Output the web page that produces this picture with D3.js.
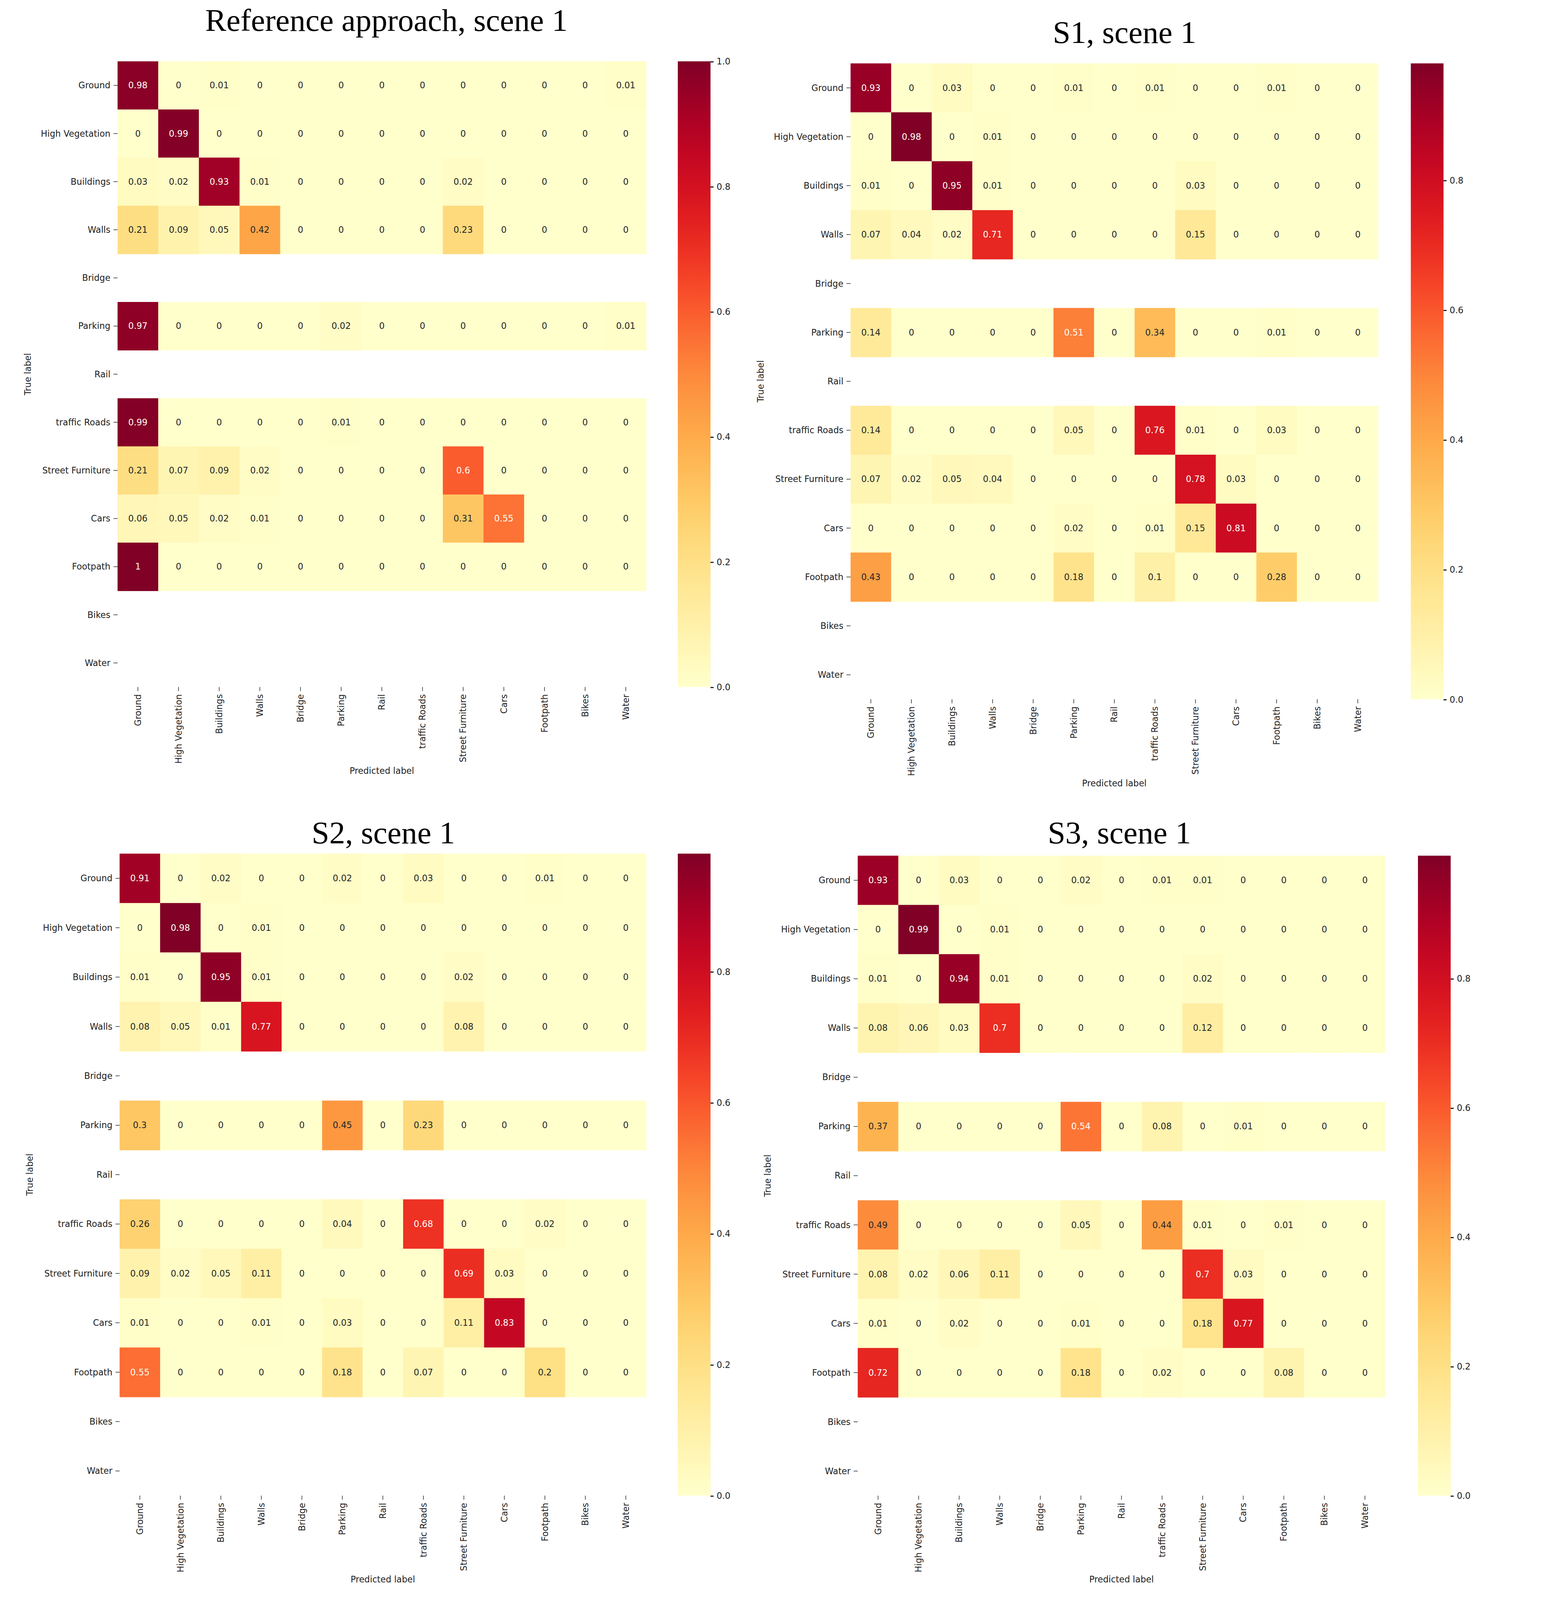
<!DOCTYPE html>
<html><head><meta charset="utf-8">
<script src="https://d3js.org/d3.v7.min.js"></script>
<style>body{margin:0;background:#fff}</style></head>
<body><script>
const labels=["Ground","High Vegetation","Buildings","Walls","Bridge","Parking","Rail","traffic Roads","Street Furniture","Cars","Footpath","Bikes","Water"];
const titles=["Reference approach, scene 1","S1, scene 1","S2, scene 1","S3, scene 1"];
const N=null;
const refData=[
[.98,0,.01,0,0,0,0,0,0,0,0,0,.01],
[0,.99,0,0,0,0,0,0,0,0,0,0,0],
[.03,.02,.93,.01,0,0,0,0,.02,0,0,0,0],
[.21,.09,.05,.42,0,0,0,0,.23,0,0,0,0],
N,
[.97,0,0,0,0,.02,0,0,0,0,0,0,.01],
N,
[.99,0,0,0,0,.01,0,0,0,0,0,0,0],
[.21,.07,.09,.02,0,0,0,0,.6,0,0,0,0],
[.06,.05,.02,.01,0,0,0,0,.31,.55,0,0,0],
[1,0,0,0,0,0,0,0,0,0,0,0,0],N,N];
const s1Data=[
[.93,0,.03,0,0,.01,0,.01,0,0,.01,0,0],
[0,.98,0,.01,0,0,0,0,0,0,0,0,0],
[.01,0,.95,.01,0,0,0,0,.03,0,0,0,0],
[.07,.04,.02,.71,0,0,0,0,.15,0,0,0,0],
N,
[.14,0,0,0,0,.51,0,.34,0,0,.01,0,0],
N,
[.14,0,0,0,0,.05,0,.76,.01,0,.03,0,0],
[.07,.02,.05,.04,0,0,0,0,.78,.03,0,0,0],
[0,0,0,0,0,.02,0,.01,.15,.81,0,0,0],
[.43,0,0,0,0,.18,0,.1,0,0,.28,0,0],N,N];
const s2Data=[
[.91,0,.02,0,0,.02,0,.03,0,0,.01,0,0],
[0,.98,0,.01,0,0,0,0,0,0,0,0,0],
[.01,0,.95,.01,0,0,0,0,.02,0,0,0,0],
[.08,.05,.01,.77,0,0,0,0,.08,0,0,0,0],
N,
[.3,0,0,0,0,.45,0,.23,0,0,0,0,0],
N,
[.26,0,0,0,0,.04,0,.68,0,0,.02,0,0],
[.09,.02,.05,.11,0,0,0,0,.69,.03,0,0,0],
[.01,0,0,.01,0,.03,0,0,.11,.83,0,0,0],
[.55,0,0,0,0,.18,0,.07,0,0,.2,0,0],N,N];
const s3Data=[
[.93,0,.03,0,0,.02,0,.01,.01,0,0,0,0],
[0,.99,0,.01,0,0,0,0,0,0,0,0,0],
[.01,0,.94,.01,0,0,0,0,.02,0,0,0,0],
[.08,.06,.03,.7,0,0,0,0,.12,0,0,0,0],
N,
[.37,0,0,0,0,.54,0,.08,0,.01,0,0,0],
N,
[.49,0,0,0,0,.05,0,.44,.01,0,.01,0,0],
[.08,.02,.06,.11,0,0,0,0,.7,.03,0,0,0],
[.01,0,.02,0,0,.01,0,0,.18,.77,0,0,0],
[.72,0,0,0,0,.18,0,.02,0,0,.08,0,0],N,N];
const cbMax=[1.0,0.98,0.98,0.99];
const cbTicks=[[0,.2,.4,.6,.8,1.0],[0,.2,.4,.6,.8],[0,.2,.4,.6,.8],[0,.2,.4,.6,.8]];
const datas=[refData,s1Data,s2Data,s3Data];
const layout=[
 {x0:115,x1:632,y0:60,y1:672,cb:663,tx:378,ty:30},
 {x0:832,x1:1348,y0:62,y1:684,cb:1380,tx:1100,ty:42},
 {x0:117,x1:632,y0:835,y1:1463,cb:663,tx:375,ty:825},
 {x0:839,x1:1355,y0:837,y1:1463,cb:1387,tx:1095,ty:825}];
const K=3968/1472/1.03;
const svg=d3.select("body").append("svg").attr("width",3968).attr("height",4238);
const root=svg.append("g").attr("transform",`scale(${K})`);
const F="DejaVu Sans";
datas.forEach((data,p)=>{
 const L=layout[p];
 const g=root.append("g");
 const x=d3.scaleBand().domain(labels).range([L.x0,L.x1]);
 const y=d3.scaleBand().domain(labels).range([L.y0,L.y1]);
 const c=d3.scaleSequential(d3.interpolateYlOrRd).domain([0,cbMax[p]]);
 data.forEach((row,i)=>{ if(!row) return;
  row.forEach((v,j)=>{
   g.append("rect").attr("x",x(labels[j])).attr("y",y(labels[i])).attr("width",x.bandwidth()+0.3).attr("height",y.bandwidth()+0.3).attr("fill",c(v));
   g.append("text").attr("x",x(labels[j])+x.bandwidth()/2).attr("y",y(labels[i])+y.bandwidth()/2).attr("dy","0.35em")
    .attr("text-anchor","middle").attr("font-family",F).attr("font-size",8.5).attr("fill",v>0.5?"#fff":"#262626").text(String(v));
  });
 });
 labels.forEach(l=>{
  g.append("line").attr("x1",L.x0-4).attr("x2",L.x0).attr("y1",y(l)+y.bandwidth()/2).attr("y2",y(l)+y.bandwidth()/2).attr("stroke","#333").attr("stroke-width",0.6);
  g.append("text").attr("x",L.x0-7).attr("y",y(l)+y.bandwidth()/2).attr("dy","0.35em").attr("text-anchor","end").attr("font-family",F).attr("font-size",8.5).attr("fill","#222").text(l);
  const cx=x(l)+x.bandwidth()/2;
  g.append("line").attr("x1",cx).attr("x2",cx).attr("y1",L.y1).attr("y2",L.y1+4).attr("stroke","#333").attr("stroke-width",0.6);
  g.append("text").attr("transform",`translate(${cx},${L.y1+7}) rotate(-90)`).attr("dy","0.35em").attr("text-anchor","end").attr("font-family",F).attr("font-size",8.5).attr("fill","#222").text(l);
 });
 g.append("text").attr("x",(L.x0+L.x1)/2).attr("y",L.y1+85).attr("text-anchor","middle").attr("font-family",F).attr("font-size",8.5).attr("fill","#222").text("Predicted label");
 g.append("text").attr("transform",`translate(${L.x0-85},${(L.y0+L.y1)/2}) rotate(-90)`).attr("text-anchor","middle").attr("font-family",F).attr("font-size",8.5).attr("fill","#222").text("True label");
 g.append("text").attr("x",L.tx).attr("y",L.ty).attr("text-anchor","middle").attr("font-family","Liberation Serif").attr("font-size",31).attr("fill","#000").text(titles[p]);
 const cy=d3.scaleLinear().domain([0,cbMax[p]]).range([L.y1,L.y0]);
 const id="gr"+p;
 const grad=svg.append("defs").append("linearGradient").attr("id",id).attr("x1",0).attr("x2",0).attr("y1",1).attr("y2",0);
 d3.range(0,1.001,0.05).forEach(t=>grad.append("stop").attr("offset",t).attr("stop-color",c(t*cbMax[p])));
 g.append("rect").attr("x",L.cb).attr("y",L.y0).attr("width",32).attr("height",L.y1-L.y0).attr("fill",`url(#${id})`);
 const ax=g.append("g").attr("transform",`translate(${L.cb+32},0)`).call(d3.axisRight(cy).tickValues(cbTicks[p]).tickFormat(d3.format(".1f")).tickSize(3));
 ax.select(".domain").remove();
 ax.selectAll("text").attr("font-family",F).attr("font-size",8.5).attr("fill","#222");
});
</script></body></html>
